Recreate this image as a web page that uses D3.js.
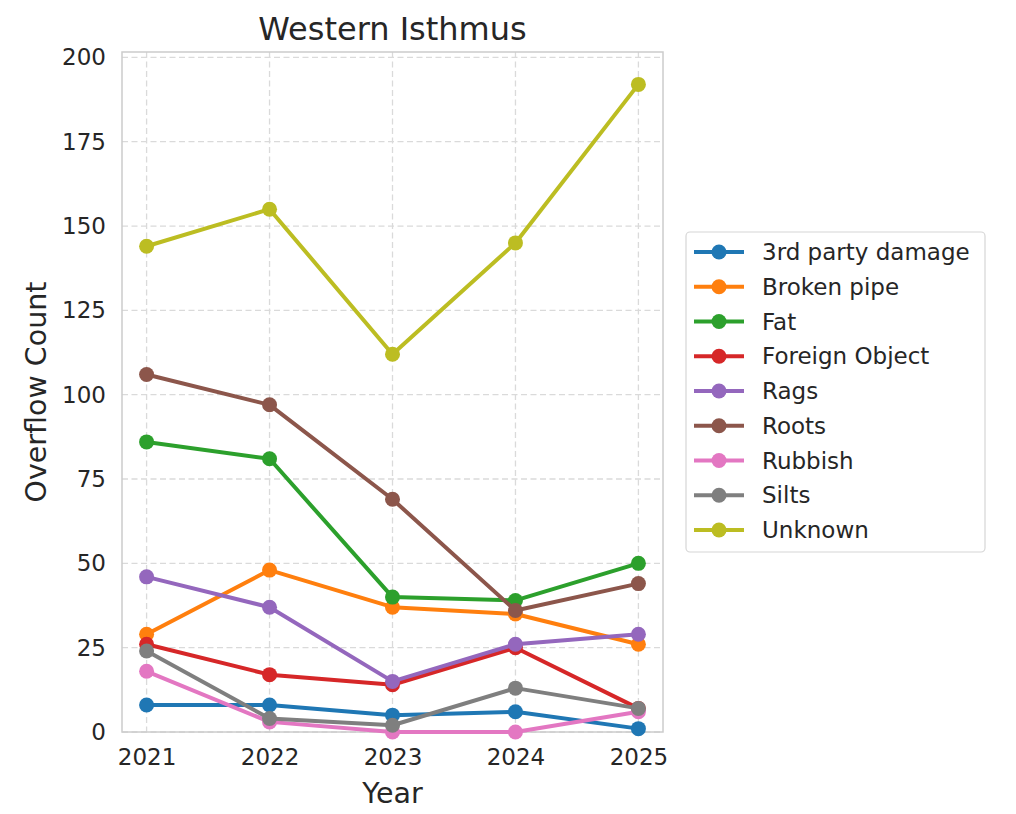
<!DOCTYPE html>
<html><head><meta charset="utf-8">
<script src="https://cdn.jsdelivr.net/npm/d3@7"></script>
<style>body{margin:0;background:#fff}svg{display:block;font-family:"DejaVu Sans",sans-serif}</style>
</head><body><svg id="c" width="1016" height="814"></svg>
<script>
const years = [2021, 2022, 2023, 2024, 2025];
const categories = ["3rd party damage","Broken pipe","Fat","Foreign Object","Rags","Roots","Rubbish","Silts","Unknown"];
const thirdParty = [8, 8, 5, 6, 1];
const brokenPipe = [29, 48, 37, 35, 26];
const fat = [86, 81, 40, 39, 50];
const foreignObject = [26, 17, 14, 25, 7];
const rags = [46, 37, 15, 26, 29];
const roots = [106, 97, 69, 36, 44];
const rubbish = [18, 3, 0, 0, 6];
const silts = [24, 4, 2, 13, 7];
const unknown = [144, 155, 112, 145, 192];
const yTicks = [0, 25, 50, 75, 100, 125, 150, 175, 200];
const colors = ["#1f77b4","#ff7f0e","#2ca02c","#d62728","#9467bd","#8c564b","#e377c2","#7f7f7f","#bcbd22"];
const seriesValues = [thirdParty, brokenPipe, fat, foreignObject, rags, roots, rubbish, silts, unknown];

const svg = d3.select("#c");
const L = 122, R = 663, T = 52, B = 732;
const x = d3.scaleLinear().domain([2020.8, 2025.2]).range([L, R]);
const y = d3.scaleLinear().domain([0, 201.6]).range([B, T]);

// grid
const g = svg.append("g");
g.selectAll(".gy").data(yTicks).join("line")
  .attr("x1", L).attr("x2", R).attr("y1", d => y(d)).attr("y2", d => y(d))
  .attr("stroke", "#dadada").attr("stroke-width", 1.3).attr("stroke-dasharray", "6,3.5");
g.selectAll(".gx").data(years).join("line")
  .attr("x1", d => x(d)).attr("x2", d => x(d)).attr("y1", T).attr("y2", B)
  .attr("stroke", "#dadada").attr("stroke-width", 1.3).attr("stroke-dasharray", "6,3.5");

// axes
const xAxis = d3.axisBottom(x).tickValues(years).tickFormat(d3.format("d")).tickSize(0).tickPadding(17);
const yAxis = d3.axisLeft(y).tickValues(yTicks).tickSize(0).tickPadding(16);
const gx = svg.append("g").attr("transform", `translate(0,${B})`).call(xAxis);
const gy = svg.append("g").attr("transform", `translate(${L},0)`).call(yAxis);
[gx, gy].forEach(a => {
  a.select(".domain").remove();
  a.selectAll("text").attr("font-size", 23).attr("fill", "#262626").attr("font-family", "DejaVu Sans");
});

// frame
svg.append("rect").attr("x", L).attr("y", T).attr("width", R - L).attr("height", B - T)
  .attr("fill", "none").attr("stroke", "#cccccc").attr("stroke-width", 1.5);

// lines
const line = d3.line().x((d, i) => x(years[i])).y(d => y(d));
categories.forEach((c, k) => {
  const vals = seriesValues[k];
  svg.append("path").datum(vals).attr("d", line).attr("fill", "none")
    .attr("stroke", colors[k]).attr("stroke-width", 4).attr("stroke-linejoin", "round").attr("stroke-linecap", "round");
  svg.append("g").selectAll("circle").data(vals).join("circle")
    .attr("cx", (d, i) => x(years[i])).attr("cy", d => y(d)).attr("r", 7.5).attr("fill", colors[k]);
});

// title & labels
svg.append("text").attr("x", (L + R) / 2).attr("y", 40).attr("text-anchor", "middle")
  .attr("font-size", 32).attr("fill", "#262626").text("Western Isthmus");
svg.append("text").attr("x", (L + R) / 2).attr("y", 803).attr("text-anchor", "middle")
  .attr("font-size", 28.5).attr("fill", "#262626").text("Year");
svg.append("text").attr("transform", `translate(46,${(T + B) / 2}) rotate(-90)`).attr("text-anchor", "middle")
  .attr("font-size", 28.5).attr("fill", "#262626").text("Overflow Count");

// legend
const lg = svg.append("g");
lg.append("rect").attr("x", 686).attr("y", 232).attr("width", 299).attr("height", 320).attr("rx", 4)
  .attr("fill", "#fff").attr("stroke", "#d6d6d6").attr("stroke-width", 1.2);
categories.forEach((c, k) => {
  const yy = 252 + k * 34.75;
  lg.append("line").attr("x1", 694).attr("x2", 744).attr("y1", yy).attr("y2", yy)
    .attr("stroke", colors[k]).attr("stroke-width", 4);
  lg.append("circle").attr("cx", 719).attr("cy", yy).attr("r", 7.5).attr("fill", colors[k]);
  lg.append("text").attr("x", 762).attr("y", yy).attr("dy", "0.35em").attr("font-size", 23)
    .attr("fill", "#262626").text(c);
});
</script></body></html>
